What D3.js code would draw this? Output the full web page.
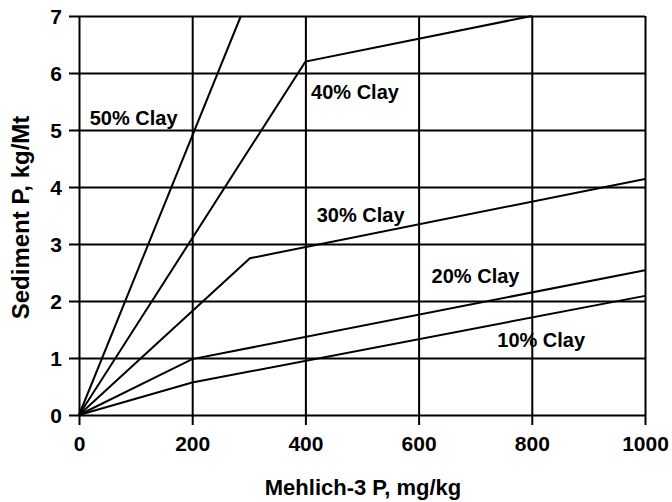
<!DOCTYPE html>
<html>
<head>
<meta charset="utf-8">
<script src="https://cdn.jsdelivr.net/npm/d3@7"></script>
<style>
  html, body { margin: 0; padding: 0; background: #fff; }
  svg { display: block; }
  text { font-family: "Liberation Sans", Arial, Helvetica, sans-serif; font-weight: bold; fill: #000; }
</style>
</head>
<body>
<svg id="chart" width="672" height="502"></svg>
<script>
// ---- data ----
const seriesNames = ["50% Clay", "40% Clay", "30% Clay", "20% Clay", "10% Clay"];
const clay50 = [[0, 0], [286, 7]];
const clay40 = [[0, 0], [400, 6.2], [800, 7]];
const clay30 = [[0, 0], [302, 2.75], [1000, 4.14]];
const clay20 = [[0, 0], [200, 0.98], [1000, 2.54]];
const clay10 = [[0, 0], [200, 0.57], [1000, 2.09]];
const xTicks = [0, 200, 400, 600, 800, 1000];
const yTicks = [0, 1, 2, 3, 4, 5, 6, 7];
const xTitle = "Mehlich-3 P, mg/kg";
const yTitle = "Sediment P, kg/Mt";

// label anchors (data units: left edge x, baseline y)
const labelAnchors = [[19, 5.09], [410, 5.54], [420, 3.39], [623, 2.32], [739, 1.2]];

// ---- layout ----
const W = 672, H = 502;
const margin = { left: 79, right: 27, top: 16, bottom: 87 };
const w = W - margin.left - margin.right;
const h = H - margin.top - margin.bottom;

const svg = d3.select("#chart");
const g = svg.append("g").attr("transform", `translate(${margin.left},${margin.top})`);

const x = d3.scaleLinear().domain([0, 1000]).range([0, w]);
const y = d3.scaleLinear().domain([0, 7]).range([h, 0]);

// y grid + ticks (extending 10px left)
const yAxis = g.append("g")
  .attr("transform", "translate(-10,0)")
  .call(d3.axisLeft(y).tickValues(yTicks).tickSize(-(w + 10)).tickPadding(7).tickFormat(d3.format("d")));
yAxis.select(".domain").remove();
yAxis.selectAll(".tick line").attr("stroke", "#000").attr("stroke-width", 2);
yAxis.selectAll(".tick text").attr("font-size", 21).attr("dy", "0.35em");

// x grid + ticks (extending 10px below)
const xAxis = g.append("g")
  .attr("transform", `translate(0,${h + 10})`)
  .call(d3.axisBottom(x).tickValues(xTicks).tickSize(-(h + 10)).tickPadding(11).tickFormat(d3.format("d")));
xAxis.select(".domain").remove();
xAxis.selectAll(".tick line").attr("stroke", "#000").attr("stroke-width", 2);
xAxis.selectAll(".tick text").attr("font-size", 21);

// lines
const allSeries = [clay50, clay40, clay30, clay20, clay10];
const line = d3.line().x(d => x(d[0])).y(d => y(d[1]));
g.selectAll("path.series")
  .data(allSeries)
  .join("path")
  .attr("class", "series")
  .attr("d", line)
  .attr("fill", "none")
  .attr("stroke", "#000")
  .attr("stroke-width", 2)
  .attr("stroke-linejoin", "miter");

// series labels
g.selectAll("text.lbl")
  .data(seriesNames)
  .join("text")
  .attr("class", "lbl")
  .attr("x", (d, i) => x(labelAnchors[i][0]))
  .attr("y", (d, i) => y(labelAnchors[i][1]))
  .attr("font-size", 20)
  .text(d => d);

// axis titles
svg.append("text")
  .attr("x", margin.left + w / 2 + 1)
  .attr("y", 495)
  .attr("text-anchor", "middle")
  .attr("font-size", 22)
  .text(xTitle);

svg.append("text")
  .attr("transform", "translate(28.5,217.5) rotate(-90)")
  .attr("text-anchor", "middle")
  .attr("font-size", 24)
  .text(yTitle);
</script>
</body>
</html>
